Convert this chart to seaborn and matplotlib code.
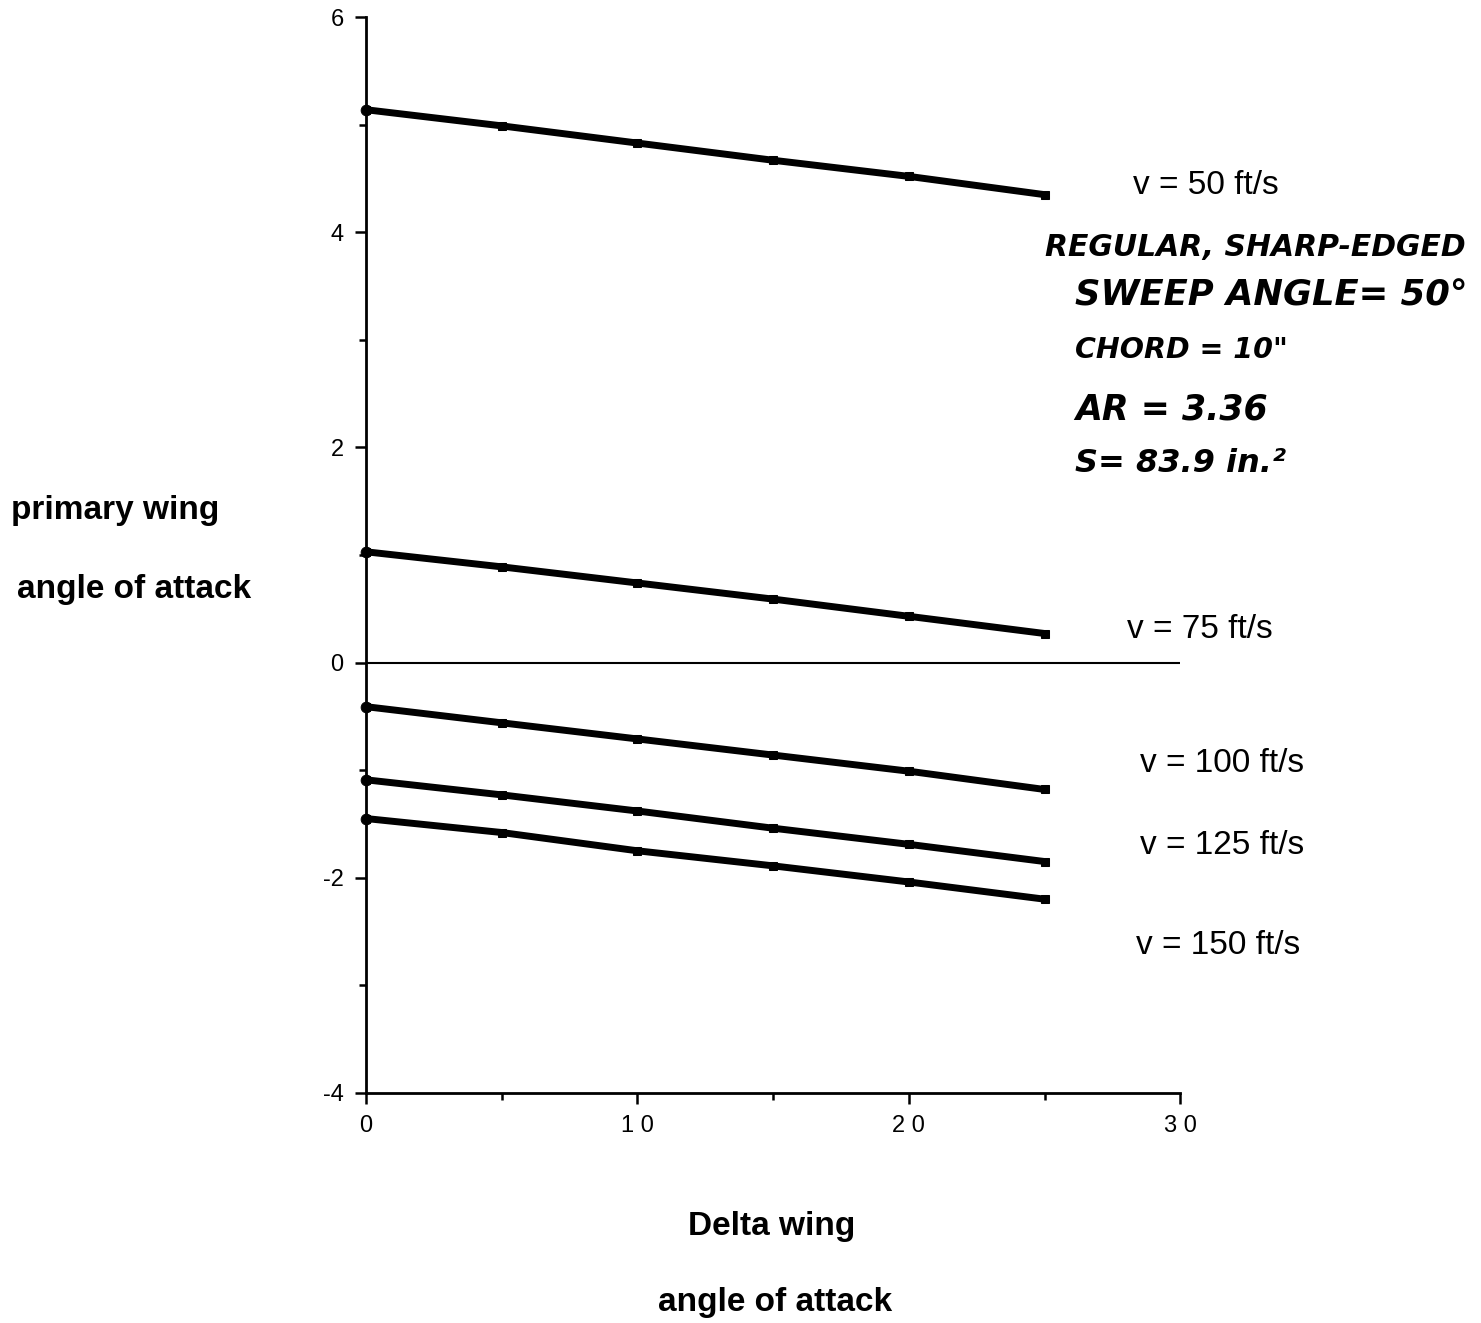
import matplotlib
matplotlib.use("Agg")
import matplotlib.pyplot as plt
import seaborn as sns
import pandas as pd
import numpy as np

sns.set_style("ticks")
plt.rcParams['font.family'] = ['Liberation Sans', 'DejaVu Sans']
plt.rcParams['axes.unicode_minus'] = False
plt.rcParams['text.color'] = 'black'
plt.rcParams['xtick.color'] = 'black'
plt.rcParams['ytick.color'] = 'black'
plt.rcParams['axes.edgecolor'] = 'black'

delta_aoa = [0, 5, 10, 15, 20, 25]
v50 = [5.14, 4.99, 4.83, 4.67, 4.52, 4.35]
v75 = [1.03, 0.89, 0.74, 0.59, 0.43, 0.27]
v100 = [-0.41, -0.56, -0.71, -0.86, -1.01, -1.18]
v125 = [-1.09, -1.23, -1.38, -1.54, -1.69, -1.85]
v150 = [-1.45, -1.58, -1.75, -1.89, -2.04, -2.20]
series_labels = ["v = 50 ft/s", "v = 75 ft/s", "v = 100 ft/s", "v = 125 ft/s", "v = 150 ft/s"]
series_values = [v50, v75, v100, v125, v150]

rows = []
for lab, vals in zip(series_labels, series_values):
    for x, y in zip(delta_aoa, vals):
        rows.append({"delta": x, "primary": y, "series": lab})
df = pd.DataFrame(rows)

fig = plt.figure(figsize=(14.81, 13.23), dpi=100)
ax = fig.add_axes([0.247, 0.174, 0.550, 0.813])

sns.lineplot(data=df, x="delta", y="primary", units="series", estimator=None,
             color="black", linewidth=5, marker="s", markersize=6,
             markeredgecolor="black", ax=ax, legend=False)
start = df[df["delta"] == 0]
sns.scatterplot(data=start, x="delta", y="primary", color="black", s=60,
                marker="o", edgecolor="black", ax=ax, legend=False, clip_on=False, zorder=5)

ax.axhline(0, color="black", linewidth=1.5, xmin=0, xmax=1.0)

ax.set_xlim(0, 30)
ax.set_ylim(-4, 6)
ax.set_xticks([0, 10, 20, 30])
ax.set_xticks([5, 15, 25], minor=True)
ax.set_yticks([-4, -2, 0, 2, 4, 6])
ax.set_yticks([-3, -1, 1, 3, 5], minor=True)
ax.set_xticklabels(["0", "1 0", "2 0", "3 0"])
ax.tick_params(axis="both", which="major", direction="out", length=8, width=1.8,
               labelsize=17, pad=8)
ax.tick_params(axis="both", which="minor", direction="out", length=5, width=1.8)
for s in ["top", "right"]:
    ax.spines[s].set_visible(False)
for s in ["left", "bottom"]:
    ax.spines[s].set_linewidth(2)
ax.set_xlabel("")
ax.set_ylabel("")

W, H = 1481, 1323
def ftext(px, py, s, **kw):
    fig.text(px / W, 1 - py / H, s, **kw)

label_pos = [(1206, 185), (1200, 630), (1222, 763), (1222, 845), (1218, 946)]
for lab, (px, py) in zip(series_labels, label_pos):
    ftext(px, py, lab, ha="center", va="center", fontsize=24)

ftext(115, 510, "primary wing", ha="center", va="center", fontsize=24, fontweight="bold")
ftext(134, 590, "angle of attack", ha="center", va="center", fontsize=24, fontweight="bold")
ftext(772, 1226, "Delta wing", ha="center", va="center", fontsize=24, fontweight="bold")
ftext(775, 1302, "angle of attack", ha="center", va="center", fontsize=24, fontweight="bold")

note = [(1045, 247, "REGULAR, SHARP-EDGED", 21.5),
        (1075, 296, "SWEEP ANGLE= 50°", 25.5),
        (1075, 350, "CHORD = 10\"", 20.5),
        (1075, 410, "AR = 3.36", 25),
        (1075, 463, "S= 83.9 in.²", 23)]
for px, py, s, fs in note:
    ftext(px, py, s, ha="left", va="center", fontsize=fs, fontweight="heavy",
          family=["DejaVu Sans"], style="italic")

fig.savefig("out.png", dpi=100, facecolor="white")
